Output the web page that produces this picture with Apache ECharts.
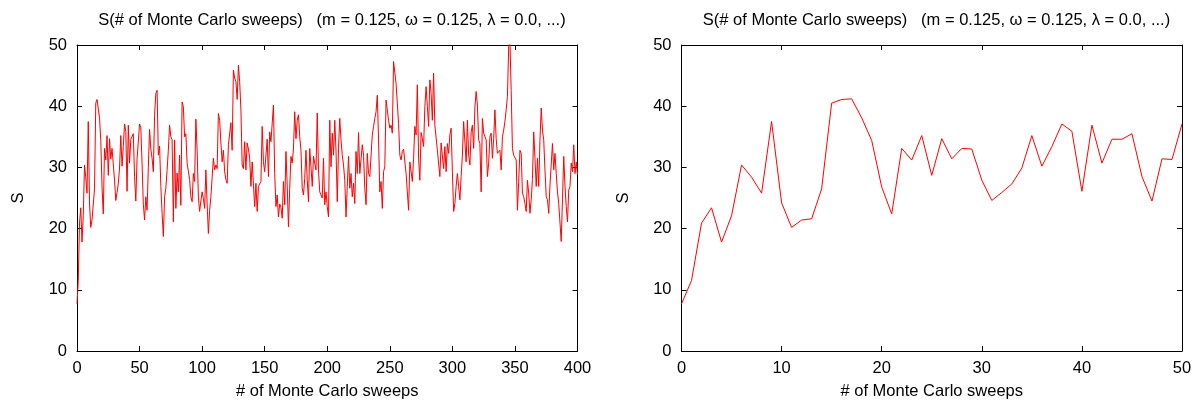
<!DOCTYPE html>
<html>
<head>
<meta charset="utf-8">
<script src="https://cdn.jsdelivr.net/npm/echarts@6/dist/echarts.min.js"></script>
<style>
  html, body { margin: 0; padding: 0; background: #fff; }
  #main { width: 1200px; height: 403px; }
</style>
</head>
<body>
<div id="main"></div>
<script>
// S per Monte Carlo sweep
const sweeps0to50 = [7.7, 11.5, 20.9, 23.4, 17.8, 22.1, 30.4, 28.4, 25.8, 37.5, 24.2, 20.2, 21.4, 21.6, 26.5, 40.5, 41.1, 41.2, 38.1, 34.4,
  26.8, 22.4, 33.1, 31.2, 35.2, 28.7, 34.7, 31.4, 33.1, 33.0, 27.9, 24.6, 25.9, 27.3, 29.9, 35.2, 30.2, 33.4, 37.1, 35.9,
  26.1, 36.9, 30.7, 34.6, 34.6, 35.5, 28.5, 24.5, 31.4, 31.3, 37.1];
const sweeps51to150 = [36.5, 30.5, 24.0, 21.4, 25.2, 23.0, 30.0, 36.2, 33.0, 31.5, 29.3, 38.5, 42.1, 42.6, 32.0, 33.5, 26.9, 22.5, 18.7,
  25.2, 26.6, 29.5, 32.8, 36.9, 35.0, 34.5, 21.1, 34.5, 23.3, 29.1, 26.0, 32.0, 23.8, 40.7, 39.9, 35.0, 35.5, 30.7, 30.4,
  28.0, 25.2, 24.4, 29.0, 27.7, 37.9, 32.8, 25.2, 22.8, 24.5, 26.0, 24.9, 23.3, 29.6, 24.0, 19.2, 23.0, 25.2, 25.0, 31.5,
  29.6, 30.4, 29.8, 38.8, 37.7, 34.0, 30.9, 32.8, 29.3, 28.0, 27.4, 33.7, 33.9, 37.3, 32.8, 45.9, 44.6, 44.0, 41.1, 46.7,
  44.0, 39.4, 30.4, 29.8, 34.2, 29.6, 34.0, 33.0, 31.5, 26.9, 30.9, 30.6, 23.6, 27.4, 22.8, 26.9, 26.9, 27.7, 36.7, 30.9,
  29.3];
const sweeps151to250 = [32.0, 34.6, 28.5, 35.8, 34.2, 34.2, 40.2, 29.0, 23.6, 25.5, 21.9, 24.0, 23.5, 21.7, 27.7, 23.9, 32.6, 27.0, 20.3,
  26.6, 31.8, 30.7, 33.0, 39.1, 34.7, 37.7, 38.6, 35.0, 32.8, 26.6, 25.5, 28.2, 32.8, 28.0, 24.4, 33.1, 30.1, 26.9, 31.8,
  32.0, 29.6, 38.9, 29.6, 26.0, 25.8, 25.0, 31.5, 23.9, 26.0, 23.6, 21.9, 37.7, 30.1, 35.6, 32.0, 37.7, 32.8, 24.4, 33.1,
  38.0, 34.5, 32.0, 30.4, 27.9, 21.9, 26.9, 31.8, 26.6, 29.0, 25.2, 27.4, 24.1, 32.6, 29.0, 35.7, 29.0, 29.2, 33.7, 32.0,
  26.6, 23.9, 32.3, 29.0, 28.5, 28.8, 35.3, 36.7, 38.0, 39.1, 41.8, 34.5, 26.0, 27.7, 23.3, 29.3, 30.1, 41.0, 41.1, 37.7,
  36.4];
const sweeps251to350 = [36.9, 35.6, 47.3, 47.1, 43.7, 43.5, 37.2, 32.0, 31.2, 32.6, 33.0, 33.1, 29.0, 26.0, 23.0, 30.9, 30.9, 27.7, 31.5,
  36.7, 35.3, 43.5, 31.5, 27.9, 35.7, 34.7, 33.4, 39.9, 43.2, 40.0, 36.7, 44.3, 42.1, 37.7, 45.4, 36.9, 37.2, 32.8, 32.8,
  28.5, 34.0, 34.2, 29.8, 33.4, 29.3, 33.9, 32.3, 35.3, 36.4, 29.3, 22.8, 24.1, 26.9, 29.0, 26.9, 24.7, 28.5, 32.0, 37.5,
  37.5, 30.9, 37.7, 32.0, 30.4, 35.8, 36.9, 33.1, 39.9, 42.4, 40.2, 34.5, 33.9, 26.0, 38.0, 35.6, 35.8, 34.5, 28.5, 30.7,
  35.0, 35.6, 31.5, 34.7, 39.4, 34.7, 32.3, 32.3, 32.8, 29.6, 35.0, 36.1, 37.5, 39.4, 41.6, 49.7, 50.6, 42.6, 33.1, 32.0,
  32.3];
const sweeps351to400 = [31.2, 23.0, 27.7, 32.8, 32.3, 25.8, 25.2, 24.1, 22.8, 27.9, 25.8, 22.5, 24.7, 28.2, 35.8, 31.5, 26.9, 31.5, 26.9,
  34.5, 39.7, 36.1, 34.5, 29.6, 25.2, 24.7, 22.5, 27.1, 27.4, 33.9, 29.6, 32.3, 29.0, 26.0, 24.1, 24.0, 17.9, 24.9, 31.8,
  26.9, 23.6, 21.1, 26.3, 26.9, 30.7, 29.3, 33.7, 29.0, 30.9, 28.8];

const titleText = 'S(# of Monte Carlo sweeps)   (m = 0.125, \u03c9 = 0.125, \u03bb = 0.0, ...)';
const xName = '# of Monte Carlo sweeps';
const yName = 'S';

const allS = [].concat(sweeps0to50, sweeps51to150, sweeps151to250, sweeps251to350, sweeps351to400);
const fullData = allS.map((v, i) => [i, v]);
const zoomData = sweeps0to50.map((v, i) => [i, v]);

const FONT = '"Liberation Sans", Arial, sans-serif';
const FS = 16.5;
const panels = [
  { left: 77, xMax: 400, xStep: 50, data: fullData },
  { left: 681.5, xMax: 50, xStep: 10, data: zoomData }
];

function makeAxes(p, idx) {
  const tick = { show: true, inside: true, length: 5, lineStyle: { color: '#000', width: 1 } };
  const line = { show: true, onZero: false, lineStyle: { color: '#000', width: 1 } };
  const label = { color: '#000', fontSize: FS, fontFamily: FONT };
  const xa = [
    {
      type: 'value', gridIndex: idx, min: 0, max: p.xMax, interval: p.xStep, position: 'bottom',
      name: xName, nameLocation: 'middle', nameGap: 32,
      nameTextStyle: { color: '#000', fontSize: FS, fontFamily: FONT },
      axisLine: line, axisTick: tick, splitLine: { show: false },
      axisLabel: Object.assign({ margin: 9 }, label)
    },
    {
      type: 'value', gridIndex: idx, min: 0, max: p.xMax, interval: p.xStep, position: 'top',
      axisLine: line, axisTick: tick, splitLine: { show: false }, axisLabel: { show: false }
    }
  ];
  const ya = [
    {
      type: 'value', gridIndex: idx, min: 0, max: 50, interval: 10, position: 'left',
      name: yName, nameLocation: 'middle', nameGap: 50,
      nameTextStyle: { color: '#000', fontSize: FS, fontFamily: FONT },
      axisLine: line, axisTick: tick, splitLine: { show: false },
      axisLabel: Object.assign({ margin: 10 }, label)
    },
    {
      type: 'value', gridIndex: idx, min: 0, max: 50, interval: 10, position: 'right',
      axisLine: line, axisTick: tick, splitLine: { show: false }, axisLabel: { show: false }
    }
  ];
  return { xa, ya };
}

const option = {
  animation: false,
  backgroundColor: '#fff',
  title: panels.map(p => ({
    text: titleText,
    left: p.left + 250,
    top: 7,
    textAlign: 'center',
    textStyle: { color: '#000', fontSize: FS, fontWeight: 'normal', fontFamily: FONT }
  })),
  grid: panels.map(p => ({
    left: p.left, top: 45, width: 500.5, height: 306,
    containLabel: false, outerBoundsMode: 'none'
  })),
  xAxis: [],
  yAxis: [],
  series: []
};

panels.forEach((p, i) => {
  const { xa, ya } = makeAxes(p, i);
  option.xAxis.push(...xa);
  option.yAxis.push(...ya);
  option.series.push({
    type: 'line',
    xAxisIndex: i * 2,
    yAxisIndex: i * 2,
    data: p.data,
    showSymbol: false,
    clip: true,
    lineStyle: { color: '#ff0000', width: 1 },
    itemStyle: { color: '#ff0000' }
  });
});

const chart = echarts.init(document.getElementById('main'));
chart.setOption(option);
</script>
</body>
</html>
